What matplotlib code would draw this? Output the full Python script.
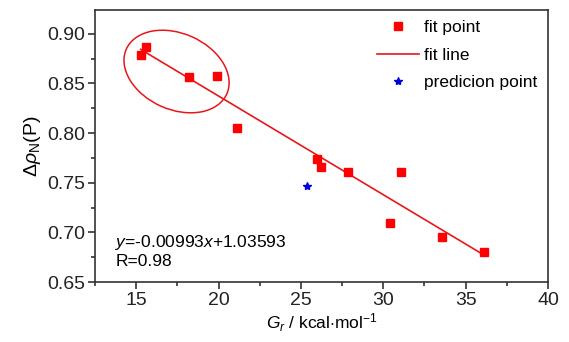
import numpy as np
import matplotlib.pyplot as plt
from matplotlib.patches import Ellipse
from matplotlib.transforms import ScaledTranslation
from matplotlib.ticker import MultipleLocator

plt.rcParams['font.family'] = ['Liberation Sans', 'DejaVu Sans']
plt.rcParams['mathtext.fontset'] = 'custom'
plt.rcParams['mathtext.rm'] = 'Liberation Sans'
plt.rcParams['mathtext.it'] = 'Liberation Sans:italic'

# fit points
fit_x = [15.27, 15.61, 18.22, 19.9, 21.1, 25.97, 26.2, 27.85, 31.1, 30.4, 33.54, 36.1]
fit_y = [0.879, 0.887, 0.856, 0.857, 0.805, 0.774, 0.766, 0.761, 0.761, 0.710, 0.695, 0.680]
# prediction point
pred_x = [25.4]
pred_y = [0.747]
# fit line
slope = -0.00993
intercept = 1.03593
line_x = [15.27, 36.1]

fig = plt.figure(figsize=(5.69, 3.42), dpi=100)
ax = fig.add_axes([0.167, 0.175, 0.796, 0.796])

lx = np.array(line_x)
ax.plot(fit_x, fit_y, 's', color='#ff0000', markersize=5.8, label='fit point', zorder=3)
ax.plot(lx, slope * lx + intercept, '-', color='#e8161b', lw=1.2, label='fit line', zorder=2)
ax.plot(pred_x, pred_y, '*', color='#0000dd', markersize=6, label='predicion point', zorder=3)

# ellipse around the high points, sized in inches around a data centre
ell = Ellipse((0, 0), 1.10, 0.76, angle=-24, fill=False, edgecolor='#e8161b', lw=1.1,
              transform=fig.dpi_scale_trans + ScaledTranslation(17.45, 0.862, ax.transData))
ax.add_patch(ell)

ax.set_xlim(12.5, 40)
ax.set_ylim(0.65, 0.924)
ax.xaxis.set_major_locator(MultipleLocator(5))
ax.xaxis.set_minor_locator(MultipleLocator(2.5))
ax.yaxis.set_major_locator(MultipleLocator(0.05))
ax.yaxis.set_minor_locator(MultipleLocator(0.025))
ax.yaxis.set_major_formatter(plt.FormatStrFormatter('%.2f'))
ax.tick_params(which='both', direction='out', top=False, right=False, labelsize=14, colors='#222222')
ax.tick_params(which='major', length=5, width=1.1, pad=2)
ax.tick_params(which='minor', length=3, width=1.1)
for s in ax.spines.values():
    s.set_linewidth(1.2)
    s.set_color('#333333')

ax.set_xlabel(r'$G_r$ / kcal$\cdot$mol$^{-1}$', fontsize=12.5, labelpad=2)
ax.set_ylabel(r'$\Delta\rho_{\rm N}$(P)', fontsize=14, labelpad=3)

ax.text(0.045, 0.05, r'$y$=-0.00993$x$+1.03593' + '\nR=0.98', transform=ax.transAxes,
        fontsize=12.5, ha='left', va='bottom', linespacing=1.1)

ax.legend(loc='upper right', frameon=False, fontsize=12.5, handlelength=2.4,
          borderaxespad=0.2, labelspacing=0.7, handletextpad=0.3, borderpad=0.4)

fig.savefig('out.png', dpi=100)
